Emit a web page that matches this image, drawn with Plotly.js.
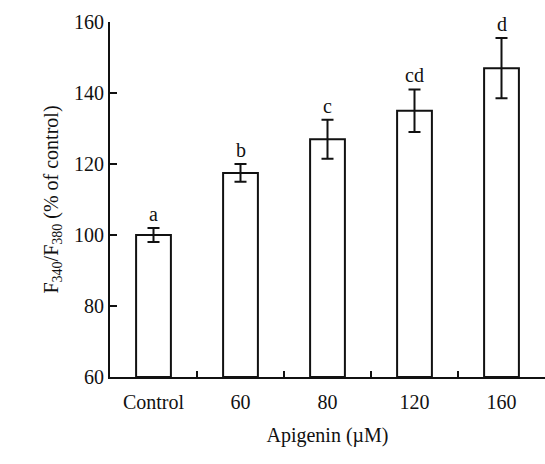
<!DOCTYPE html>
<html><head><meta charset="utf-8">
<script src="https://cdn.plot.ly/plotly-3.0.1.min.js"></script>
<style>body{margin:0}#plot{width:545px;height:464px}</style>
</head><body><div id="plot"></div>
<script>
"use strict"

const groups = ['Control', '60', '80', '120', '160'];
const ratio = [100, 117.5, 127, 135, 147];
const errors = [2, 2.5, 5.5, 6, 8.5];
const letters = ['a', 'b', 'c', 'cd', 'd'];

const font = {family: 'Liberation Serif, Times New Roman, serif', size: 20, color: '#111'};

const trace = {
    x: groups,
    y: ratio.map(v => v - 60),
    base: 60,
    type: 'bar',
    width: 0.4,
    marker: {color: 'white', line: {color: '#111', width: 2}},
    error_y: {type: 'data', array: errors, color: '#111', thickness: 2, width: 6},
    hoverinfo: 'none'
};

// category index as x so '60' etc. are not read as numbers
const annotations = groups.map((g, i) => ({
    x: i, y: ratio[i] + errors[i], yanchor: 'bottom', yshift: 1,
    text: letters[i], showarrow: false, font: font
}));

const layout = {
    width: 545, height: 464,
    margin: {l: 110, r: 0, t: 22, b: 87},
    showlegend: false,
    font: font,
    plot_bgcolor: 'white', paper_bgcolor: 'white',
    xaxis: {
        type: 'category', range: [-0.5, 4.5],
        showline: true, linecolor: '#111', linewidth: 2,
        ticks: 'inside', tickson: 'boundaries', ticklen: 6, tickwidth: 2, tickcolor: '#111',
        showgrid: false, zeroline: false, ticklabelstandoff: 6,
        title: {text: 'Apigenin (\u00b5M)', font: font, standoff: 16}
    },
    yaxis: {
        range: [60, 160], tickvals: [60, 80, 100, 120, 140, 160],
        showline: true, linecolor: '#111', linewidth: 2,
        ticks: 'inside', ticklen: 7, tickwidth: 2, tickcolor: '#111',
        showgrid: false, zeroline: false,
        title: {text: 'F<sub>340</sub>/F<sub>380</sub> (% of control)', font: font, standoff: 10}
    },
    annotations: annotations
};

Plotly.newPlot('plot', [trace], layout, {staticPlot: true});
</script></body></html>
